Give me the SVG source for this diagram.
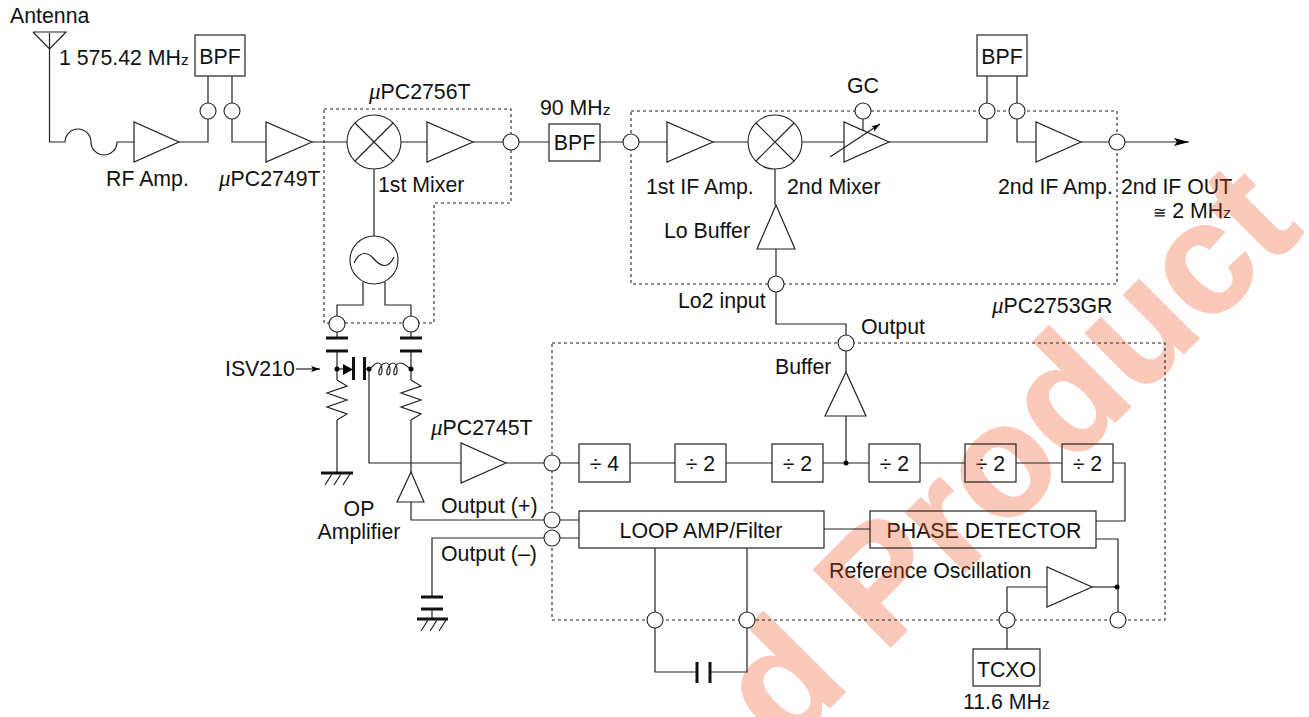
<svg xmlns="http://www.w3.org/2000/svg" width="1309" height="717" viewBox="0 0 1309 717">
<style>
text{font-family:"Liberation Sans",Arial,sans-serif;font-size:21.300px;fill:#111}
.c{text-anchor:middle}
.e{text-anchor:end}
.u{font-family:"Liberation Serif",serif;font-style:italic;font-size:23px}
.z{font-size:15.500px}
.l{fill:none;stroke:#222;stroke-width:1.2}
.r{fill:none;stroke:#222;stroke-width:1.2}
.t{fill:#fff;stroke:#222;stroke-width:1.2;stroke-linejoin:miter}
.p{fill:#fff;stroke:#222;stroke-width:1.1}
.d{fill:none;stroke:#222;stroke-width:1.1;stroke-dasharray:3 3}
.h{fill:none;stroke:#111;stroke-width:3}
.k{fill:#000;stroke:none}
.w{font-family:"Liberation Sans",Arial,sans-serif;font-weight:700;font-size:158px;fill:#f0501c;stroke:#f0501c;stroke-width:2;opacity:.3}
</style>
<defs>
<marker id="ah" markerWidth="16" markerHeight="10" refX="15" refY="4" orient="auto" markerUnits="userSpaceOnUse"><path d="M0 0L15 4L0 8L3 4Z" fill="#000"/></marker>
<marker id="ah2" markerWidth="10" markerHeight="8" refX="9" refY="3" orient="auto" markerUnits="userSpaceOnUse"><path d="M0 0L9 3L0 6L2 3Z" fill="#000"/></marker>
</defs>
<g id="if-out"><text x="1121" y="194">2nd IF OUT</text><text class="e" x="1231" y="218"><tspan class="z">≅</tspan> 2 MH<tspan class="z">z</tspan></text></g>
<g id="phase-detector"><text class="c" x="984" y="538">PHASE DETECTOR</text></g>
<g id="div2d"><text class="c" x="990.500" y="471">÷ 2</text></g>
<g id="ref-osc"><text x="829" y="578">Reference Oscillation</text></g>
<g id="watermark"><text class="w" transform="translate(784 753) rotate(-45)">d Product</text></g>
<g id="ic-boundaries">
<path class="d" d="M324 109H511V203H434V323H324Z"/>
<path class="d" d="M631 111H1117V284H631Z"/>
<path class="d" d="M552 343H1165V620H552Z"/>
</g>
<g id="connectors">
<path class="l" d="M49.500 33V142H65A13 13 0 0 1 91 142A13 13 0 0 0 117 142H134"/>
<path class="l" d="M179 142H208V76"/>
<path class="l" d="M232 76V142H266"/>
<path class="l" d="M312 142H427"/>
<path class="l" d="M473 142H549"/>
<path class="l" d="M600 142H667"/>
<path class="l" d="M713 142H844"/>
<path class="l" d="M889 142H987V76"/>
<path class="l" d="M1017 76V142H1036"/>
<path class="l" d="M1081 142H1189" marker-end="url(#ah)"/>
<path class="l" d="M374 169V236"/>
<path class="l" d="M363 282V305H337V338"/>
<path class="l" d="M385 282V305H411V338"/>
<path class="l" d="M337 351V380"/>
<path class="l" d="M411 351V380"/>
<path class="l" d="M337 420V473"/>
<path class="l" d="M411 420V472"/>
<path class="l" d="M337 369H343"/>
<path class="l" d="M364 369H369"/>
<path class="l" d="M369 369V463H461"/>
<path class="l" d="M506 463H579"/>
<path class="l" d="M630 463H675"/>
<path class="l" d="M726 463H772"/>
<path class="l" d="M823 463H869"/>
<path class="l" d="M920 463H965"/>
<path class="l" d="M1016 463H1062"/>
<path class="l" d="M1113 463H1125V521H1096"/>
<path class="l" d="M846 416V463"/>
<path class="l" d="M846 343V372"/>
<path class="l" d="M846 343V324H776V284"/>
<path class="l" d="M776 249V284"/>
<path class="l" d="M775 169V205"/>
<path class="l" d="M411 502V520H579"/>
<path class="l" d="M579 538H432V597"/>
<path class="l" d="M432 609V619"/>
<path class="l" d="M824 529H870"/>
<path class="l" d="M655 548V672H697"/>
<path class="l" d="M747 548V672H710"/>
<path class="l" d="M1096 539H1118V620"/>
<path class="l" d="M1047 587H1007V649"/>
<path class="l" d="M1092 587H1118"/>
<path class="l" d="M296 369H320" marker-end="url(#ah2)"/>
</g>
<g id="antenna"><path class="l" d="M33 32H66L49.500 49L33 32"/><text x="10" y="23">Antenna</text></g>
<g id="freq-in"><text x="59" y="65">1 575.42 MH<tspan class="z">z</tspan></text></g>
<g id="bpf1"><rect class="r" x="195" y="35" width="50" height="41"/><text class="c" x="220" y="64">BPF</text></g>
<g id="rf-amp"><path class="t" d="M134 122V162L179 142Z"/><text x="106" y="186">RF Amp.</text></g>
<g id="pin1"><circle class="p" cx="208" cy="111" r="8"/></g>
<g id="pin2"><circle class="p" cx="232" cy="111" r="8"/></g>
<g id="upc2749t"><path class="t" d="M266 122V162L312 142Z"/><text x="219" y="186"><tspan class="u">μ</tspan>PC2749T</text></g>
<g id="upc2756t-label"><text x="369" y="99"><tspan class="u">μ</tspan>PC2756T</text></g>
<g id="mixer1"><circle class="p" cx="374" cy="142" r="27"/><path class="l" d="M355 123L393 161M393 123L355 161"/><text x="378" y="192">1st Mixer</text></g>
<g id="amp-mix1"><path class="t" d="M427 122V162L473 142Z"/></g>
<g id="pin3"><circle class="p" cx="511" cy="142" r="8"/></g>
<g id="bpf2"><text x="540" y="115">90 MH<tspan class="z">z</tspan></text><rect class="t" x="549" y="124" width="51" height="37"/><text class="c" x="574.500" y="150">BPF</text></g>
<g id="pin4"><circle class="p" cx="631" cy="142" r="8"/></g>
<g id="if-amp1"><path class="t" d="M667 122V162L713 142Z"/><text x="646" y="194">1st IF Amp.</text></g>
<g id="mixer2"><circle class="p" cx="775" cy="142" r="27"/><path class="l" d="M756 123L794 161M794 123L756 161"/><text x="787" y="194">2nd Mixer</text></g>
<g id="gc-amp"><path class="t" d="M844 122V162L889 142Z"/><path class="l" d="M830 157L880 124" marker-end="url(#ah2)"/><path class="l" d="M863 119V131"/></g>
<g id="gc-pin"><text x="847" y="93">GC</text><circle class="p" cx="863" cy="111" r="8"/></g>
<g id="bpf3"><rect class="r" x="977" y="35" width="50" height="41"/><text class="c" x="1002" y="64">BPF</text></g>
<g id="pin5"><circle class="p" cx="987" cy="111" r="8"/></g>
<g id="pin6"><circle class="p" cx="1017" cy="111" r="8"/></g>
<g id="if-amp2"><path class="t" d="M1036 122V162L1081 142Z"/><text x="998" y="194">2nd IF Amp.</text></g>
<g id="if-out-pin"><circle class="p" cx="1117" cy="142" r="8"/></g>
<g id="lo-buffer"><path class="t" d="M776 205L757 249H795Z"/><text x="664" y="238">Lo Buffer</text></g>
<g id="lo2-pin"><circle class="p" cx="776" cy="284" r="8"/><text x="678" y="308">Lo2 input</text></g>
<g id="oscillator"><circle class="p" cx="374" cy="260" r="24"/><path class="l" d="M354 263C360 250 368 252 374 259C380 266 388 270 394 257"/></g>
<g id="pin7"><circle class="p" cx="337" cy="324" r="8"/></g>
<g id="pin8"><circle class="p" cx="411" cy="324" r="8"/></g>
<g id="cap-left"><path class="h" d="M326 338H348M326 351H348"/></g>
<g id="cap-right"><path class="h" d="M400 338H422M400 351H422"/></g>
<g id="varactor"><text x="225" y="376">ISV210</text><circle class="k" cx="337" cy="369" r="2.500"/><path class="k" d="M343 364V375L353 369.500Z"/><path class="h" d="M353.500 357V380M364.500 357V380"/><circle class="k" cx="369" cy="369" r="2.500"/></g>
<g id="inductor"><path class="l" d="M369 369C372 369 373 363 378 363C383 363 383 375 380 375C377 375 380 363 386 363C391 363 391 375 388 375C385 375 388 363 393 363C398 363 398 375 395 375C392 375 395 363 400 363C405 363 407 367 411 369"/><circle class="k" cx="411" cy="369" r="2.500"/></g>
<g id="res-left"><path class="l" d="M337 380L347 386L327 393L347 400L327 407L347 414L337 420"/></g>
<g id="res-right"><path class="l" d="M411 380L421 386L401 393L421 400L401 407L421 414L411 420"/></g>
<g id="gnd-left"><path class="h" d="M321 473H353"/><path class="l" d="M332 474L325 485M341 474L334 485M350 474L343 485"/></g>
<g id="upc2745t"><path class="t" d="M461 443V483L506 463Z"/><text x="431" y="435"><tspan class="u">μ</tspan>PC2745T</text></g>
<g id="op-amp"><path class="t" d="M411 472L397 502H424Z"/><text class="c" x="359" y="516">OP</text><text class="c" x="359" y="539">Amplifier</text></g>
<g id="pin-in"><circle class="p" cx="552" cy="463" r="8"/></g>
<g id="pin-plus"><circle class="p" cx="552" cy="520" r="8"/><text x="441" y="513">Output (+)</text></g>
<g id="pin-minus"><circle class="p" cx="552" cy="538" r="8"/><text x="441" y="561">Output (–)</text></g>
<g id="cap-gnd"><path class="h" d="M421 597H443M421 609H443M417 619H448"/><path class="l" d="M428 620L421 631M437 620L430 631M446 620L439 631"/></g>
<g id="upc2753gr-label"><text x="992" y="313"><tspan class="u">μ</tspan>PC2753GR</text></g>
<g id="pin-output"><circle class="p" cx="846" cy="343" r="8"/><text x="861" y="334">Output</text></g>
<g id="buffer"><path class="t" d="M846 372L825 416H866Z"/><text x="775" y="374">Buffer</text></g>
<g id="div4"><rect class="r" x="579" y="444" width="51" height="38"/><text class="c" x="604.500" y="471">÷ 4</text></g>
<g id="div2a"><rect class="r" x="675" y="444" width="51" height="38"/><text class="c" x="700.500" y="471">÷ 2</text></g>
<g id="div2b"><rect class="r" x="772" y="444" width="51" height="38"/><text class="c" x="797.500" y="471">÷ 2</text></g>
<g id="tap"><circle class="k" cx="846" cy="463" r="2.500"/></g>
<g id="div2c"><rect class="r" x="869" y="444" width="51" height="38"/><text class="c" x="894.500" y="471">÷ 2</text></g>
<g id="div2d-box"><rect class="r" x="965" y="444" width="51" height="38"/></g>
<g id="div2e"><rect class="r" x="1062" y="444" width="51" height="38"/><text class="c" x="1087.500" y="471">÷ 2</text></g>
<g id="loop-amp"><rect class="r" x="579" y="511" width="245" height="37"/><text class="c" x="701" y="538">LOOP AMP/Filter</text></g>
<g id="phase-detector-box"><rect class="r" x="870" y="511" width="226" height="37"/></g>
<g id="ref-osc-amp"><path class="t" d="M1047 567V607L1092 587Z"/><circle class="k" cx="1117" cy="587" r="2.500"/></g>
<g id="pin-c1"><circle class="p" cx="655" cy="620" r="8"/></g>
<g id="pin-c2"><circle class="p" cx="747" cy="620" r="8"/></g>
<g id="pin-t"><circle class="p" cx="1007" cy="620" r="8"/></g>
<g id="pin-r"><circle class="p" cx="1118" cy="620" r="8"/></g>
<g id="loop-cap"><path class="h" d="M697 662V683M710 662V683"/></g>
<g id="tcxo"><rect class="r" x="973" y="649" width="67" height="37"/><text class="c" x="1006.500" y="677">TCXO</text><text x="963" y="709">11.6 MH<tspan class="z">z</tspan></text></g>
</svg>
